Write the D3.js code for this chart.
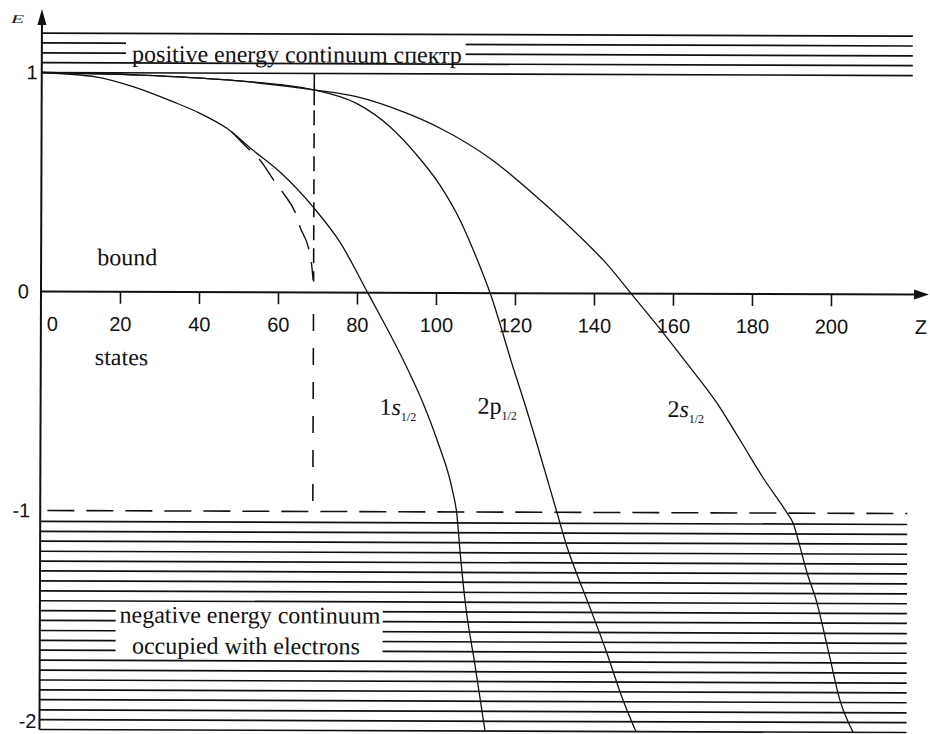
<!DOCTYPE html>
<html>
<head>
<meta charset="utf-8">
<script src="https://cdn.jsdelivr.net/npm/d3@7"></script>
<style>
  html, body { margin: 0; padding: 0; background: #fff; }
  svg { display: block; }
</style>
</head>
<body>
<svg id="chart" width="930" height="734"></svg>
<script>
// Axis ticks
const zTicks = [0, 20, 40, 60, 80, 100, 120, 140, 160, 180, 200];
const eTicks = [1, 0, -1, -2];

// Bound-state energies (units of mc^2) versus nuclear charge Z, extended nucleus
const z1s = [0, 14.0, 23.1, 33.2, 40.1, 46.9, 53.5, 60.4, 69.0, 75.6, 82.7, 93.0, 96.8, 100.4, 104.5, 105.4, 106.4, 107.6, 110.2, 112.8];
const e1s = [1.0, 0.980, 0.937, 0.869, 0.816, 0.748, 0.649, 0.549, 0.386, 0.231, 0.0, -0.353, -0.503, -0.672, -0.914, -1.0, -1.196, -1.402, -1.699, -2.0];

const z2p = [0, 24.9, 46.9, 68.9, 79.7, 88.2, 94.6, 100.9, 106.0, 109.4, 113.7, 119.8, 122.6, 125.4, 130.8, 133.4, 135.9, 138.5, 143.3, 147.7, 151.0];
const e2p = [1.0, 0.990, 0.969, 0.925, 0.864, 0.758, 0.638, 0.492, 0.333, 0.196, 0.0, -0.351, -0.506, -0.670, -1.0, -1.158, -1.281, -1.400, -1.628, -1.856, -2.0];

const z2s = [0, 24.9, 46.9, 68.9, 79.7, 92.4, 100.9, 113.5, 126.3, 136.4, 143.2, 149.4, 156.7, 162.8, 171.2, 177.1, 183.0, 189.1, 190.6, 192.4, 194.2, 196.5, 199.6, 202.6, 206.0];
const e2s = [1.0, 0.990, 0.969, 0.925, 0.895, 0.820, 0.752, 0.616, 0.426, 0.259, 0.135, 0.0, -0.160, -0.300, -0.498, -0.667, -0.840, -1.0, -1.045, -1.155, -1.273, -1.396, -1.625, -1.852, -2.0];

// 1s level for a point nucleus (dashed)
const zPoint = [48.1, 52.7, 55.3, 59.1, 61.3, 64.7, 65.5, 67.9, 68.5, 68.9];
const ePoint = [0.733, 0.649, 0.604, 0.505, 0.452, 0.346, 0.300, 0.186, 0.125, 0.057];

// Vertical guide at Z = 69
const zGuide = 69;

// Continuum levels
const posContinuum = [1.0, 1.045, 1.09, 1.135, 1.18];
const negContinuum = [-1.050, -1.095, -1.140, -1.186, -1.231, -1.276, -1.321, -1.367, -1.412, -1.457, -1.502,
                      -1.548, -1.593, -1.638, -1.683, -1.729, -1.774, -1.819, -1.864, -1.910, -1.955, -2.000];

const serif = "'Liberation Serif', 'Times New Roman', serif";
const sans = "'Liberation Sans', Arial, sans-serif";
const ink = "#111";

const svg = d3.select("#chart");
svg.append("rect").attr("width", 930).attr("height", 734).attr("fill", "#fff");

const x = d3.scaleLinear().domain([0, 200]).range([41, 831]);
const y = d3.scaleLinear().domain([-2, 1]).range([729.5, 72.5]);

// the whole drawing sits very slightly tilted
const g = svg.append("g").attr("transform", `rotate(0.2, ${x(0)}, ${y(0)})`);

// ---- continuum bands ----
const zEndPos = 220.5, zEndNeg = 219.5;
g.append("g").selectAll("line").data(posContinuum).join("line")
  .attr("x1", x(0)).attr("x2", x(zEndPos))
  .attr("y1", d => y(d)).attr("y2", d => y(d))
  .attr("stroke", ink).attr("stroke-width", 1.7);

g.append("g").selectAll("line").data(negContinuum).join("line")
  .attr("x1", x(0)).attr("x2", x(zEndNeg))
  .attr("y1", d => y(d)).attr("y2", d => y(d))
  .attr("stroke", ink).attr("stroke-width", 1.7);

// label boxes cut the continuum lines
const posTop = y((posContinuum[3] + posContinuum[4]) / 2);
const posBot = y((posContinuum[1] + posContinuum[2]) / 2);
g.append("rect").attr("x", x(21.3)).attr("width", x(107.3) - x(21.3))
  .attr("y", posTop).attr("height", posBot - posTop).attr("fill", "#fff");

const negTop = y((negContinuum[8] + negContinuum[9]) / 2);
const negBot = y((negContinuum[13] + negContinuum[14]) / 2);
g.append("rect").attr("x", x(19.2)).attr("width", x(86.8) - x(19.2))
  .attr("y", negTop).attr("height", negBot - negTop).attr("fill", "#fff");

g.append("text").attr("x", x(64.6)).attr("y", y(1.05))
  .attr("text-anchor", "middle").attr("font-family", serif).attr("font-size", 24).attr("fill", ink)
  .text("positive energy continuum спектр");
g.append("text").attr("x", x(53.2)).attr("y", y(-1.511))
  .attr("text-anchor", "middle").attr("font-family", serif).attr("font-size", 24).attr("fill", ink)
  .text("negative energy continuum");
g.append("text").attr("x", x(52.2)).attr("y", y(-1.652))
  .attr("text-anchor", "middle").attr("font-family", serif).attr("font-size", 24).attr("fill", ink)
  .text("occupied with electrons");

// ---- E = -1 boundary ----
g.append("line").attr("x1", x(1.8)).attr("x2", x(zEndNeg))
  .attr("y1", y(-1)).attr("y2", y(-1))
  .attr("stroke", ink).attr("stroke-width", 1.6).attr("stroke-dasharray", "27,12");

// ---- vertical guide ----
g.append("line").attr("x1", x(zGuide)).attr("x2", x(zGuide))
  .attr("y1", y(1)).attr("y2", y(0.855))
  .attr("stroke", ink).attr("stroke-width", 1.6);
g.append("line").attr("x1", x(zGuide)).attr("x2", x(zGuide))
  .attr("y1", y(0.832)).attr("y2", y(0.05))
  .attr("stroke", ink).attr("stroke-width", 1.6).attr("stroke-dasharray", "15,8");
g.append("line").attr("x1", x(zGuide)).attr("x2", x(zGuide))
  .attr("y1", y(-0.098)).attr("y2", y(-1))
  .attr("stroke", ink).attr("stroke-width", 1.6).attr("stroke-dasharray", "17,17");

// ---- level curves ----
const line = d3.line().x(d => x(d[0])).y(d => y(d[1])).curve(d3.curveMonotoneX);
[[z1s, e1s], [z2p, e2p], [z2s, e2s]].forEach(([zs, es]) => {
  g.append("path").datum(d3.zip(zs, es)).attr("d", line)
    .attr("fill", "none").attr("stroke", ink).attr("stroke-width", 1.3);
});
g.append("path").datum(d3.zip(zPoint, ePoint)).attr("d", line)
  .attr("fill", "none").attr("stroke", ink).attr("stroke-width", 1.4)
  .attr("stroke-dasharray", "26,13");

// ---- axes ----
const gx = g.append("g").attr("transform", `translate(0,${y(0)})`)
  .call(d3.axisBottom(x).tickValues(zTicks).tickSize(12).tickPadding(13).tickFormat(d => String(d)));
gx.select(".domain").remove();
gx.selectAll(".tick line").attr("stroke", ink).attr("stroke-width", 1.6);
gx.selectAll(".tick text").attr("font-family", sans).attr("font-size", 20).attr("fill", ink);
gx.selectAll(".tick").filter(d => d === 0).select("line").remove();
gx.selectAll(".tick").filter(d => d === 0).select("text").attr("dx", 11);

// hand-set horizontal nudges of the energy labels
const eLabelNudge = new Map([[1, 4], [0, -4], [-1, -2], [-2, 5]]);
const gy = g.append("g").attr("transform", `translate(${x(0)},0)`)
  .call(d3.axisLeft(y).tickValues(eTicks).tickSize(0).tickPadding(8).tickFormat(d => String(d)));
gy.select(".domain").remove();
gy.selectAll(".tick text").attr("font-family", sans).attr("font-size", 20).attr("fill", ink)
  .attr("dx", d => eLabelNudge.get(d) || 0);
// keep the bottom label inside the page
gy.selectAll(".tick").filter(d => d === -2).select("text").attr("dy", "-0.1em");

// axis lines with arrowheads
g.append("line").attr("x1", x(0)).attr("x2", 918).attr("y1", y(0)).attr("y2", y(0))
  .attr("stroke", ink).attr("stroke-width", 2);
g.append("path").attr("d", `M929,${y(0)} L914,${y(0) - 5} L914,${y(0) + 5} Z`).attr("fill", ink);
g.append("line").attr("x1", x(0)).attr("x2", x(0)).attr("y1", 20).attr("y2", y(-2))
  .attr("stroke", ink).attr("stroke-width", 2);
g.append("path").attr("d", `M${x(0)},9 L${x(0) - 4.5},25 L${x(0) + 4.5},25 Z`).attr("fill", ink);

g.append("text").attr("x", 10).attr("y", 23)
  .attr("font-family", serif).attr("font-style", "italic").attr("font-size", 12)
  .attr("textLength", 13).attr("lengthAdjust", "spacingAndGlyphs").attr("fill", ink).text("E");
g.append("text").attr("x", 921).attr("y", 331).attr("text-anchor", "middle")
  .attr("font-family", sans).attr("font-size", 20).attr("fill", ink).text("Z");

// ---- region labels ----
g.append("text").attr("x", x(14.2)).attr("y", y(0.121))
  .attr("font-family", serif).attr("font-size", 24).attr("fill", ink).text("bound");
g.append("text").attr("x", x(13.7)).attr("y", y(-0.335))
  .attr("font-family", serif).attr("font-size", 24).attr("fill", ink).text("states");

// ---- state labels ----
function stateLabel(z, e, lead, orbital, italic) {
  const t = g.append("text").attr("x", x(z)).attr("y", y(e))
    .attr("font-family", serif).attr("font-size", 24).attr("fill", ink);
  t.append("tspan").text(lead);
  t.append("tspan").attr("font-style", italic ? "italic" : "normal").text(orbital);
  t.append("tspan").attr("font-size", 12).attr("dy", 6).text("1/2");
}
stateLabel(85.8, -0.558, "1", "s", true);
stateLabel(110.6, -0.551, "2", "p", false);
stateLabel(158.7, -0.563, "2", "s", true);
</script>
</body>
</html>
